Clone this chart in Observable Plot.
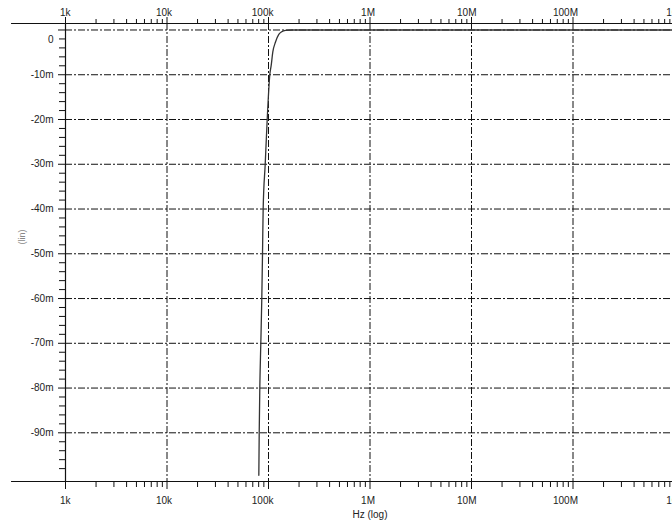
<!DOCTYPE html>
<html>
<head>
<meta charset="utf-8">
<script src="https://cdn.jsdelivr.net/npm/d3@7"></script>
<script src="https://cdn.jsdelivr.net/npm/@observablehq/plot@0.6"></script>
<style>
  html, body { margin: 0; padding: 0; background: #fff; overflow: hidden; }
</style>
</head>
<body>
<div id="chart"></div>
<script>
// ---- data ----
const xMajor = [1e3, 1e4, 1e5, 1e6, 1e7, 1e8, 1e9];
const xLabels = ["1k", "10k", "100k", "1M", "10M", "100M", "1G"];
const minorMantissas = [2, 3, 4, 5, 6, 7, 8, 9];
const yMajor = [0, -0.01, -0.02, -0.03, -0.04, -0.05, -0.06, -0.07, -0.08, -0.09];
const yLabels = ["0", "-10m", "-20m", "-30m", "-40m", "-50m", "-60m", "-70m", "-80m", "-90m"];
const yMinor = [-0.002, -0.004, -0.006, -0.008, -0.012, -0.014, -0.016, -0.018,
  -0.022, -0.024, -0.026, -0.028, -0.032, -0.034, -0.036, -0.038,
  -0.042, -0.044, -0.046, -0.048, -0.052, -0.054, -0.056, -0.058,
  -0.062, -0.064, -0.066, -0.068, -0.072, -0.074, -0.076, -0.078,
  -0.082, -0.084, -0.086, -0.088, -0.092, -0.094, -0.096, -0.098];
const freqHz = [80.3e3, 81.0e3, 82.1e3, 84.0e3, 85.9e3, 87.3e3, 88.6e3, 92.8e3, 97.1e3,
  103.0e3, 106.3e3, 110.3e3, 117.2e3, 126.3e3, 135e3, 147.1e3, 171.2e3, 250e3, 1e6, 1e9];
const outputV = [-0.0995, -0.090, -0.080, -0.070, -0.060, -0.050, -0.040, -0.030, -0.020,
  -0.010, -0.0079, -0.0049, -0.0027, -0.0010, -0.0004, -0.0001, 0, 0, 0, 0];

const xDomain = [1e3, 1e9];
const yDomain = [-0.10088, 0.00145];
const axisLineStartHz = 294;

const xMinor = [];
for (const d of xMajor) for (const m of minorMantissas) xMinor.push(d * m);
const curve = freqHz.map((f, i) => ({f, v: outputV[i]}));
const dash = "7,2,2,2";

const chart = Plot.plot({
  width: 672,
  height: 523,
  marginLeft: 65,
  marginRight: -2,
  marginTop: 23,
  marginBottom: 42,
  style: {fontFamily: "'Liberation Sans', Arial, sans-serif", fontSize: "10px", color: "#111", background: "#fff"},
  x: {type: "log", domain: xDomain},
  y: {type: "linear", domain: yDomain},
  marks: [
    // grid
    Plot.ruleY(yMajor, {stroke: "#111", strokeDasharray: dash, strokeWidth: 1}),
    Plot.ruleX(xMajor.slice(1), {stroke: "#111", strokeDasharray: dash, strokeWidth: 1}),
    Plot.ruleX([xMajor[0]], {stroke: "#111", strokeWidth: 1.2}),
    // axis lines
    Plot.ruleY([yDomain[1], yDomain[0]], {x1: axisLineStartHz, x2: xDomain[1], stroke: "#111", strokeWidth: 1.2}),
    // ticks
    Plot.axisX(xMajor, {anchor: "top", tickSize: 7, tickFormat: () => "", label: null}),
    Plot.axisX(xMinor, {anchor: "top", tickSize: 5, tickFormat: () => "", label: null}),
    Plot.axisX(xMajor, {anchor: "bottom", tickSize: 8, tickFormat: () => "", label: null}),
    Plot.axisX(xMinor, {anchor: "bottom", tickSize: 6, tickFormat: () => "", label: null}),
    Plot.axisY(yMajor, {anchor: "left", tickSize: 7, tickFormat: () => "", label: null}),
    Plot.axisY(yMinor, {anchor: "left", tickSize: 6, tickFormat: () => "", label: null}),
    // tick labels
    Plot.text(xMajor, {x: d => d, text: (d, i) => xLabels[i], frameAnchor: "top", lineAnchor: "middle", dy: -11, textAnchor: "end", dx: 5, fill: "#222"}),
    Plot.text(xMajor, {x: d => d, text: (d, i) => xLabels[i], frameAnchor: "bottom", lineAnchor: "middle", dy: 19, textAnchor: "end", dx: 5, fill: "#222"}),
    Plot.text(yMajor.slice(1), {y: d => d, text: (d, i) => yLabels[i + 1], frameAnchor: "left", dx: -12, textAnchor: "end", fill: "#222"}),
    Plot.text(yMajor.slice(0, 1), {y: d => d, text: (d, i) => yLabels[i], frameAnchor: "left", dx: -12, dy: 9.5, textAnchor: "end", fill: "#222"}),
    // axis titles
    Plot.text(["Hz (log)"], {frameAnchor: "bottom", lineAnchor: "middle", dy: 33, fill: "#222"}),
    Plot.text(["(lin)"], {frameAnchor: "left", dx: -43, dy: -8, rotate: -90, fontSize: 9, fill: "#888"}),
    // curve
    Plot.line(curve, {x: "f", y: "v", stroke: "#333", strokeWidth: 1.3, curve: "monotone-x"})
  ]
});
document.getElementById("chart").append(chart);
</script>
</body>
</html>
